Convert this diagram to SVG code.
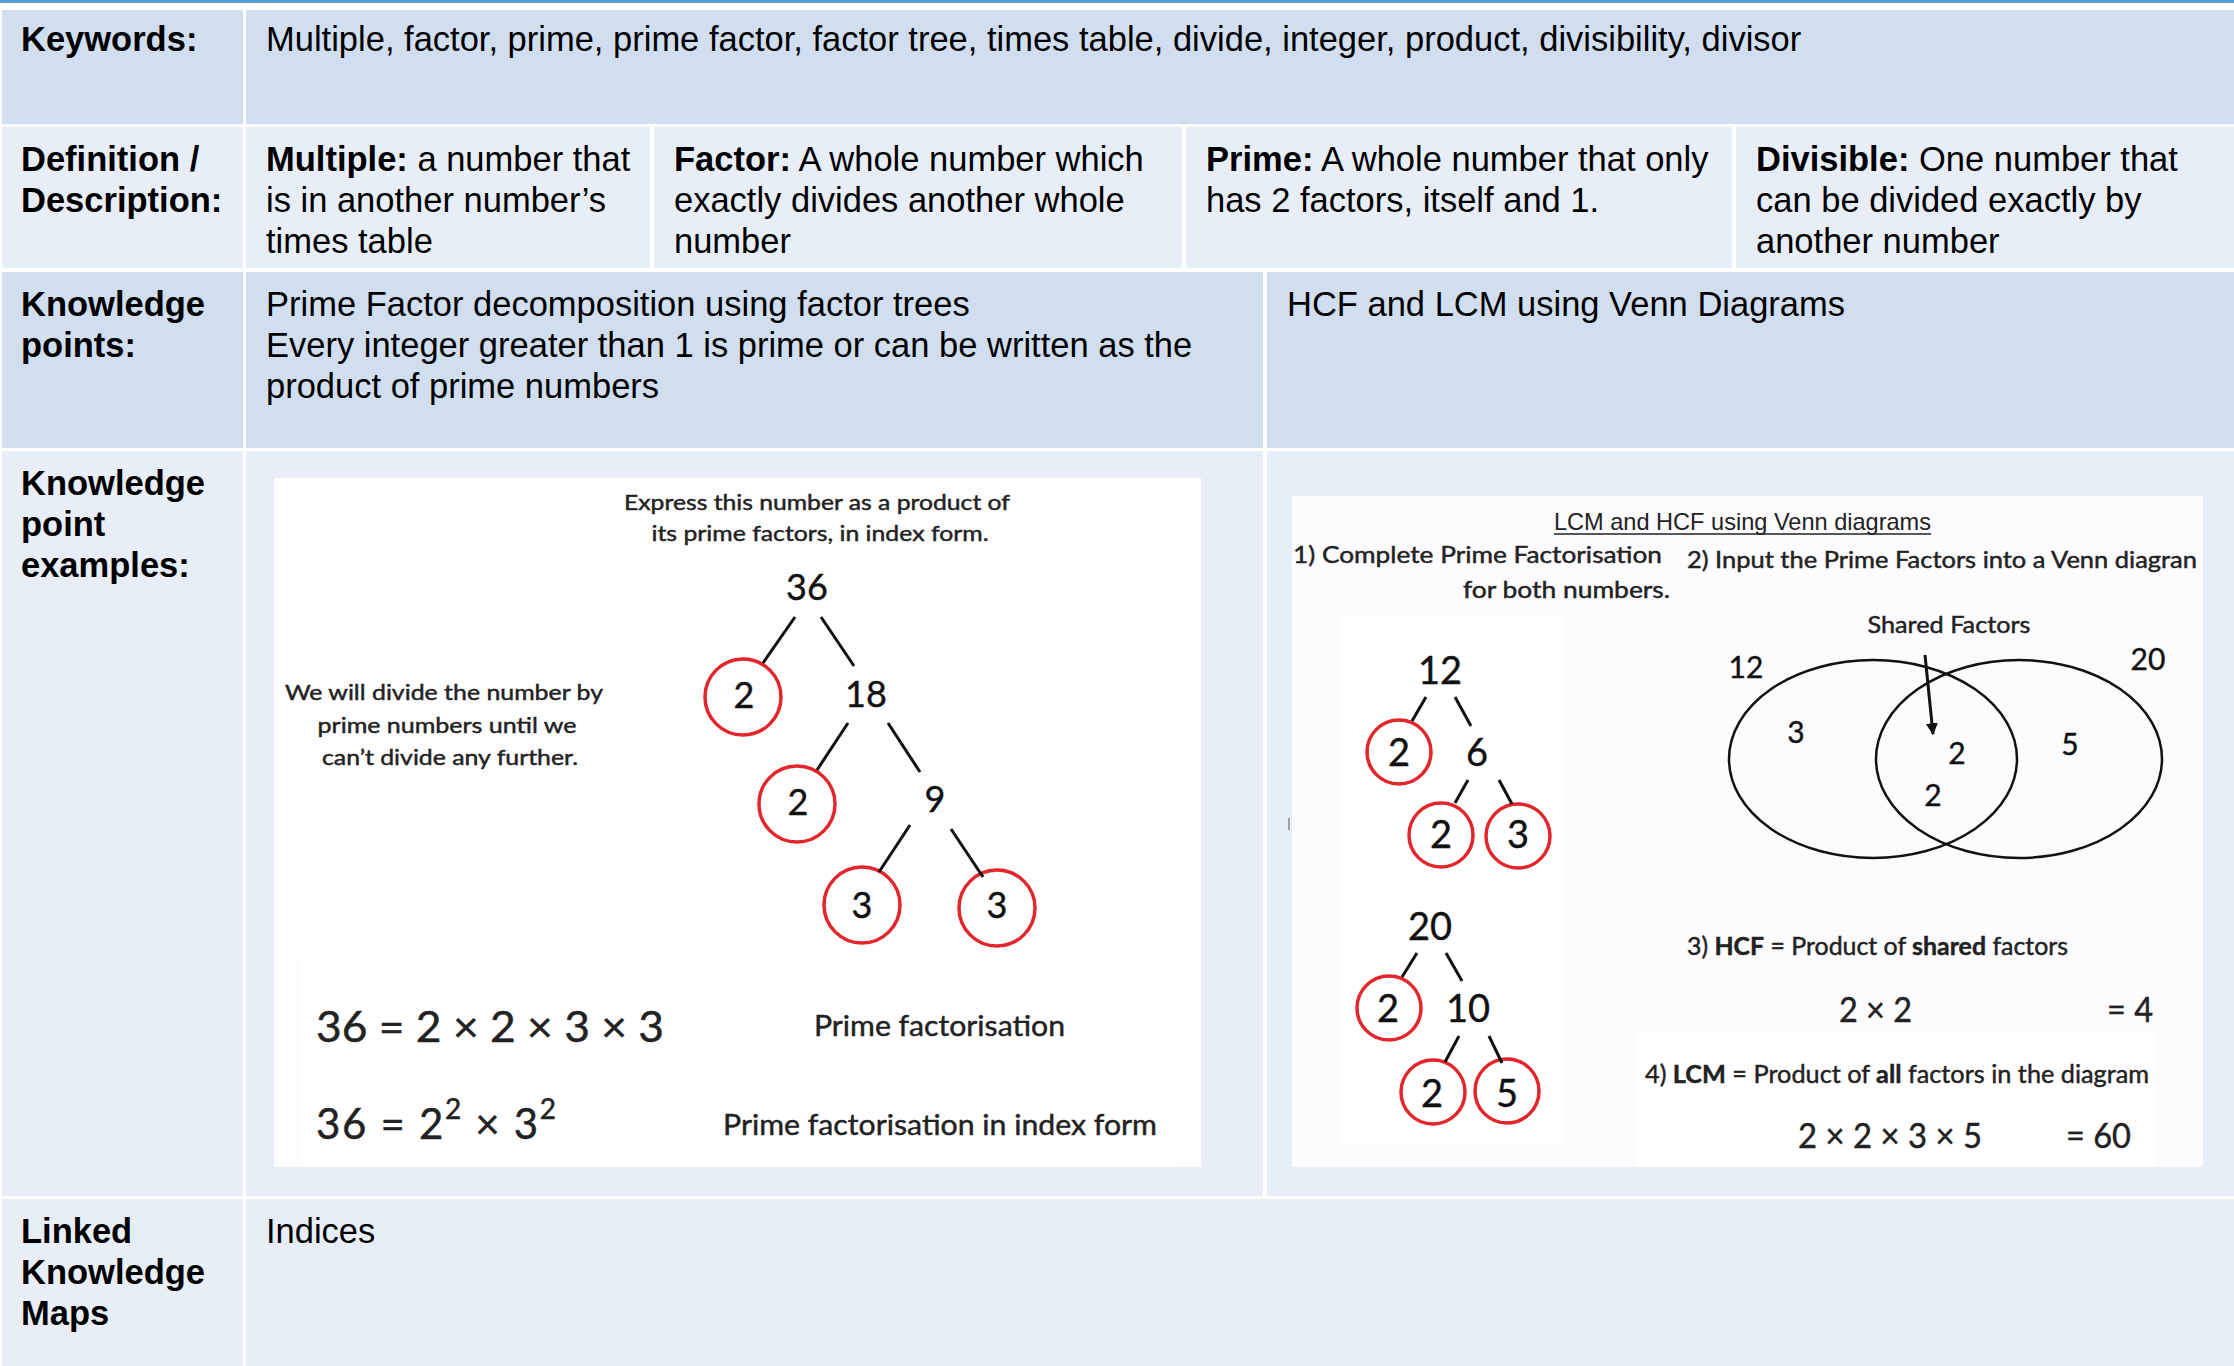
<svg xmlns="http://www.w3.org/2000/svg" width="2234" height="1366" viewBox="0 0 2234 1366">
  <style>
    .dark { fill: #D0DEEF; }
    .light { fill: #E8EEF7; }
    .t { font-family: "Liberation Sans", Arial, sans-serif; font-size: 34.5px; fill: #000; }
    .b { font-weight: bold; }
    .c { font-family: Lato, "Open Sans", sans-serif; fill: #222; stroke: #222; stroke-width: 0.45; }
    .num { font-family: Lato, "Open Sans", sans-serif; fill: #111; stroke: #111; stroke-width: 0.4; text-anchor: middle; }
    .ring { fill: none; stroke: #E3262B; stroke-width: 3.5; }
    .edge { stroke: #111; stroke-width: 3; stroke-linecap: butt; fill: none; }
    .venn { fill: none; stroke: #111; stroke-width: 2.5; }
  </style>
  <defs>
    <marker id="arrowhead" viewBox="0 0 10 10" refX="9" refY="5" markerWidth="4" markerHeight="4" orient="auto" markerUnits="strokeWidth">
      <path d="M0,0 L10,5 L0,10 z" fill="#111"/>
    </marker>
  </defs>

  <rect x="0" y="0" width="2234" height="1366" fill="#FFFFFF"/>
  <rect x="0" y="0" width="2234" height="3" fill="#5B9BD5"/>

  <!-- table cells -->
  <g id="cells">
    <rect class="dark" x="2" y="10" width="241" height="114"/>
    <rect class="dark" x="246" y="10" width="1988" height="114"/>
    <rect class="light" x="2" y="127" width="241" height="141"/>
    <rect class="light" x="246" y="127" width="404" height="141"/>
    <rect class="light" x="654" y="127" width="528" height="141"/>
    <rect class="light" x="1186" y="127" width="546" height="141"/>
    <rect class="light" x="1736" y="127" width="498" height="141"/>
    <rect class="dark" x="2" y="272" width="241" height="176"/>
    <rect class="dark" x="246" y="272" width="1017" height="176"/>
    <rect class="dark" x="1267" y="272" width="967" height="176"/>
    <rect class="light" x="2" y="451" width="241" height="745"/>
    <rect class="light" x="246" y="451" width="1017" height="745"/>
    <rect class="light" x="1267" y="451" width="967" height="745"/>
    <rect class="light" x="2" y="1199" width="241" height="167"/>
    <rect class="light" x="246" y="1199" width="1988" height="167"/>
  </g>

  <!-- row headings -->
  <g id="headings" class="t b">
    <text x="21" y="51">Keywords:</text>
    <text x="21" y="171">Definition /</text>
    <text x="21" y="212">Description:</text>
    <text x="21" y="316">Knowledge</text>
    <text x="21" y="357">points:</text>
    <text x="21" y="495">Knowledge</text>
    <text x="21" y="536">point</text>
    <text x="21" y="577">examples:</text>
    <text x="21" y="1243">Linked</text>
    <text x="21" y="1284">Knowledge</text>
    <text x="21" y="1325">Maps</text>
  </g>

  <g id="keywords" class="t">
    <text x="266" y="51">Multiple, factor, prime, prime factor, factor tree, times table, divide, integer, product, divisibility, divisor</text>
  </g>

  <g id="def-multiple" class="t">
    <text x="266" y="171"><tspan class="b">Multiple:</tspan> a number that</text>
    <text x="266" y="212">is in another number’s</text>
    <text x="266" y="253">times table</text>
  </g>
  <g id="def-factor" class="t">
    <text x="674" y="171"><tspan class="b">Factor:</tspan> A whole number which</text>
    <text x="674" y="212">exactly divides another whole</text>
    <text x="674" y="253">number</text>
  </g>
  <g id="def-prime" class="t">
    <text x="1206" y="171"><tspan class="b">Prime:</tspan> A whole number that only</text>
    <text x="1206" y="212">has 2 factors, itself and 1.</text>
  </g>
  <g id="def-divisible" class="t">
    <text x="1756" y="171"><tspan class="b">Divisible:</tspan> One number that</text>
    <text x="1756" y="212">can be divided exactly by</text>
    <text x="1756" y="253">another number</text>
  </g>

  <g id="kp-factor-trees" class="t">
    <text x="266" y="316">Prime Factor decomposition using factor trees</text>
    <text x="266" y="357">Every integer greater than 1 is prime or can be written as the</text>
    <text x="266" y="398">product of prime numbers</text>
  </g>
  <g id="kp-venn" class="t">
    <text x="1287" y="316">HCF and LCM using Venn Diagrams</text>
  </g>

  <g id="linked" class="t">
    <text x="266" y="1243">Indices</text>
  </g>

  <!-- example: factor tree of 36 -->
  <g id="example-36">
    <rect x="274" y="478" width="927" height="689" fill="#FDFDFE"/>
    <rect x="300" y="958" width="875" height="209" fill="#FFFFFF"/>
    <g class="c" font-size="22" text-anchor="middle">
      <text x="817" y="510" textLength="386" lengthAdjust="spacingAndGlyphs">Express this number as a product of</text>
      <text x="820" y="541" textLength="337" lengthAdjust="spacingAndGlyphs">its prime factors, in index form.</text>
      <text x="444" y="700" textLength="318" lengthAdjust="spacingAndGlyphs">We will divide the number by</text>
      <text x="447" y="733" textLength="259" lengthAdjust="spacingAndGlyphs">prime numbers until we</text>
      <text x="450" y="765" textLength="256" lengthAdjust="spacingAndGlyphs">can’t divide any further.</text>
    </g>
    <g id="tree36-nodes" class="num" font-size="36">
      <text x="807" y="600">36</text>
      <circle class="ring" cx="743" cy="697" r="38"/>
      <text x="744" y="708">2</text>
      <text x="866" y="707">18</text>
      <circle class="ring" cx="797" cy="804" r="38"/>
      <text x="798" y="815">2</text>
      <text x="935" y="812">9</text>
      <circle class="ring" cx="862" cy="905" r="38"/>
      <text x="862" y="918">3</text>
      <circle class="ring" cx="997" cy="908" r="38"/>
      <text x="997" y="918">3</text>
    </g>
    <g class="c" fill="#111">
      <text x="316" y="1042" font-size="42" textLength="348" lengthAdjust="spacingAndGlyphs">36 = 2 × 2 × 3 × 3</text>
      <text x="316" y="1139" font-size="42" textLength="240" lengthAdjust="spacing">36 = 2<tspan font-size="28" dy="-20">2</tspan><tspan dy="20"> × 3</tspan><tspan font-size="28" dy="-20">2</tspan></text>
      <text x="814" y="1036" font-size="29" textLength="251" lengthAdjust="spacingAndGlyphs">Prime factorisation</text>
      <text x="723" y="1135" font-size="29" textLength="434" lengthAdjust="spacingAndGlyphs">Prime factorisation in index form</text>
    </g>
  </g>

  <!-- example: HCF and LCM with a Venn diagram -->
  <g id="example-venn">
    <rect x="1292" y="496" width="911" height="671" fill="#FCFCFE"/>
    <rect x="1342" y="617" width="220" height="526" fill="#FFFFFF"/>
    <rect x="1636" y="1033" width="520" height="134" fill="#FFFFFF"/>
    <line x1="1289" y1="818" x2="1289" y2="830" stroke="#888" stroke-width="1.5"/>
    <text x="1554" y="530" font-family="'Liberation Sans', Arial, sans-serif" font-size="24" fill="#222" textLength="377" lengthAdjust="spacingAndGlyphs">LCM and HCF using Venn diagrams</text>
    <line x1="1554" y1="534" x2="1931" y2="534" stroke="#222" stroke-width="1.5"/>
    <g class="c" font-size="23">
      <text x="1293" y="563" textLength="369" lengthAdjust="spacingAndGlyphs">1) Complete Prime Factorisation</text>
      <text x="1463" y="598" textLength="207" lengthAdjust="spacingAndGlyphs">for both numbers.</text>
      <text x="1687" y="568" textLength="510" lengthAdjust="spacingAndGlyphs">2) Input the Prime Factors into a Venn diagran</text>
      <text x="1949" y="633" text-anchor="middle" textLength="163" lengthAdjust="spacingAndGlyphs">Shared Factors</text>
    </g>
    <g id="tree12-nodes" class="num" font-size="38">
      <text x="1440" y="684">12</text>
      <circle class="ring" cx="1399" cy="752" r="32"/>
      <text x="1399" y="766">2</text>
      <text x="1477" y="766">6</text>
      <circle class="ring" cx="1441" cy="835" r="32"/>
      <text x="1441" y="848">2</text>
      <circle class="ring" cx="1518" cy="836" r="32"/>
      <text x="1518" y="848">3</text>
    </g>
    <g id="tree20-nodes" class="num" font-size="38">
      <text x="1430" y="940">20</text>
      <circle class="ring" cx="1389" cy="1008" r="32"/>
      <text x="1388" y="1022">2</text>
      <text x="1468" y="1022">10</text>
      <circle class="ring" cx="1433" cy="1092" r="32"/>
      <text x="1432" y="1107">2</text>
      <circle class="ring" cx="1507" cy="1091" r="32"/>
      <text x="1507" y="1107">5</text>
    </g>
    <g id="venn-sets">
      <ellipse class="venn" cx="1873" cy="759" rx="144" ry="99"/>
      <ellipse class="venn" cx="2019" cy="759" rx="143" ry="99"/>
      <g class="num" font-size="30">
        <text x="1746" y="678">12</text>
        <text x="2148" y="670">20</text>
        <text x="1796" y="743">3</text>
        <text x="1957" y="764">2</text>
        <text x="1933" y="806">2</text>
        <text x="2070" y="755">5</text>
      </g>
    </g>
    <g class="c" fill="#111">
      <text x="1687" y="955" font-size="25" textLength="381" lengthAdjust="spacingAndGlyphs">3) <tspan font-weight="bold">HCF</tspan> = Product of <tspan font-weight="bold">shared</tspan> factors</text>
      <text x="1839" y="1022" font-size="34" textLength="73" lengthAdjust="spacingAndGlyphs">2 × 2</text>
      <text x="2107" y="1022" font-size="34" textLength="46" lengthAdjust="spacingAndGlyphs">= 4</text>
      <text x="1645" y="1083" font-size="25" textLength="504" lengthAdjust="spacingAndGlyphs">4) <tspan font-weight="bold">LCM</tspan> = Product of <tspan font-weight="bold">all</tspan> factors in the diagram</text>
      <text x="1798" y="1148" font-size="34" textLength="184" lengthAdjust="spacingAndGlyphs">2 × 2 × 3 × 5</text>
      <text x="2066" y="1148" font-size="34" textLength="65" lengthAdjust="spacingAndGlyphs">= 60</text>
    </g>
  </g>

  <!-- tree branches and the shared-factors pointer -->
  <g id="connectors">
    <line class="edge" x1="795" y1="617" x2="763" y2="663"/>
    <line class="edge" x1="821" y1="617" x2="854" y2="666"/>
    <line class="edge" x1="848" y1="723" x2="817" y2="770"/>
    <line class="edge" x1="888" y1="723" x2="920" y2="772"/>
    <line class="edge" x1="910" y1="825" x2="879" y2="872"/>
    <line class="edge" x1="951" y1="829" x2="983" y2="877"/>
    <line class="edge" x1="1426" y1="697" x2="1412" y2="721"/>
    <line class="edge" x1="1455" y1="697" x2="1471" y2="726"/>
    <line class="edge" x1="1468" y1="780" x2="1455" y2="803"/>
    <line class="edge" x1="1499" y1="780" x2="1512" y2="804"/>
    <line class="edge" x1="1417" y1="953" x2="1402" y2="977"/>
    <line class="edge" x1="1446" y1="953" x2="1462" y2="981"/>
    <line class="edge" x1="1459" y1="1036" x2="1445" y2="1062"/>
    <line class="edge" x1="1489" y1="1036" x2="1502" y2="1063"/>
    <line x1="1925" y1="655" x2="1933" y2="734" stroke="#111" stroke-width="3" marker-end="url(#arrowhead)"/>
  </g>
</svg>
